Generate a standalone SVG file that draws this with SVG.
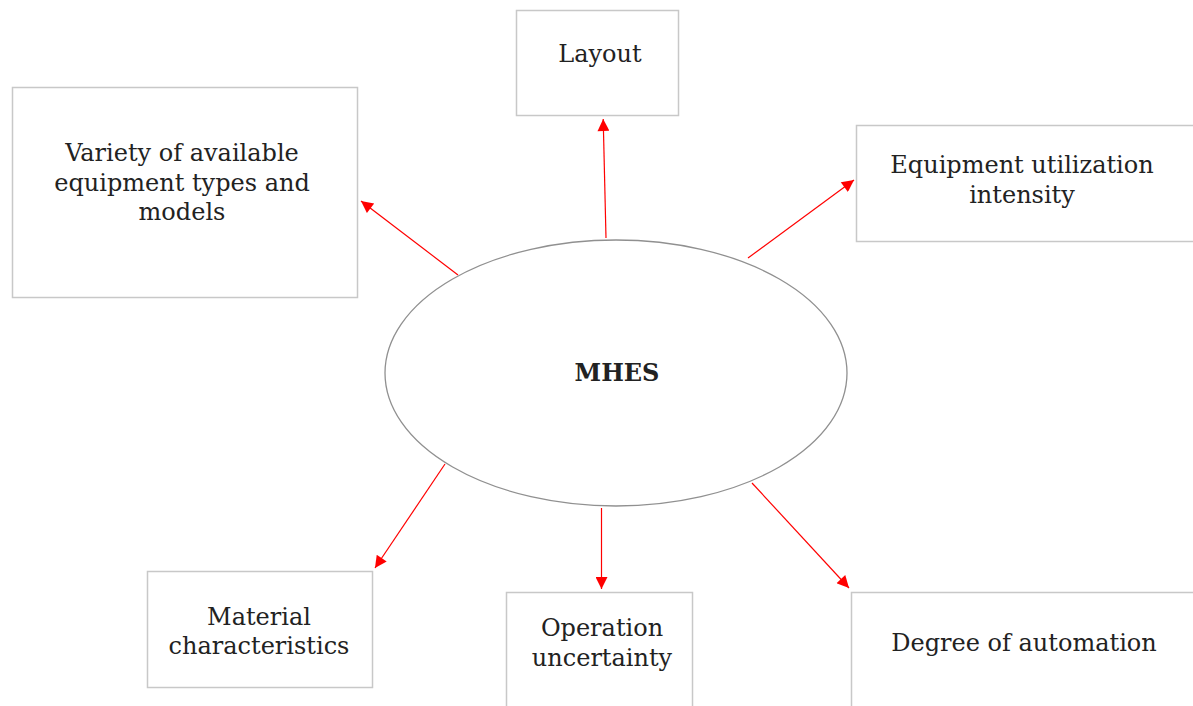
<svg xmlns="http://www.w3.org/2000/svg" width="1193" height="706" viewBox="0 0 1193 706">
<defs>
<style>
.box{fill:#fff;stroke:#c8c8c8;stroke-width:1.5}
.t{font-family:"DejaVu Serif","Liberation Serif",serif;font-size:24px;fill:#222;text-anchor:middle}
.b{font-weight:bold}
.e{stroke:#ff0000;stroke-width:1.2;fill:none;marker-end:url(#ah)}
</style>
<marker id="ah" viewBox="0 0 10 10" refX="10" refY="5" markerWidth="16" markerHeight="12" markerUnits="userSpaceOnUse" orient="auto">
<path d="M0,0 L10,5 L0,10 z" fill="#ff0000"/>
</marker>
</defs>
<rect width="1193" height="706" fill="#fff"/>
<g id="connectors">
<line class="e" x1="606" y1="238" x2="603.2" y2="119"/>
<line class="e" x1="458" y1="275" x2="361" y2="201"/>
<line class="e" x1="748" y1="258" x2="854" y2="180"/>
<line class="e" x1="445" y1="464" x2="375" y2="568"/>
<line class="e" x1="601.5" y1="508" x2="601.5" y2="589"/>
<line class="e" x1="752" y1="483" x2="849" y2="588"/>
</g>
<g id="mhes">
<ellipse cx="616" cy="373" rx="231" ry="133" fill="#fff" stroke="#909090" stroke-width="1.3"/>
<text class="t b" x="617" y="381">MHES</text>
</g>
<g id="layout">
<rect class="box" x="516.5" y="10.5" width="162" height="105"/>
<text class="t" x="600" y="62">Layout</text>
</g>
<g id="variety">
<rect class="box" x="12.5" y="87.5" width="345" height="210"/>
<text class="t" x="182" y="161">Variety of available</text>
<text class="t" x="182" y="190.5">equipment types and</text>
<text class="t" x="182" y="220">models</text>
</g>
<g id="utilization">
<rect class="box" x="856.5" y="125.5" width="345" height="116"/>
<text class="t" x="1022" y="173">Equipment utilization</text>
<text class="t" x="1022" y="202.5">intensity</text>
</g>
<g id="material">
<rect class="box" x="147.5" y="571.5" width="225" height="116"/>
<text class="t" x="259" y="624.5">Material</text>
<text class="t" x="259" y="654">characteristics</text>
</g>
<g id="operation">
<rect class="box" x="506.5" y="592.5" width="186" height="130"/>
<text class="t" x="602" y="636">Operation</text>
<text class="t" x="602" y="665.5">uncertainty</text>
</g>
<g id="automation">
<rect class="box" x="851.5" y="592.5" width="350" height="130"/>
<text class="t" x="1024" y="650.5">Degree of automation</text>
</g>
</svg>
